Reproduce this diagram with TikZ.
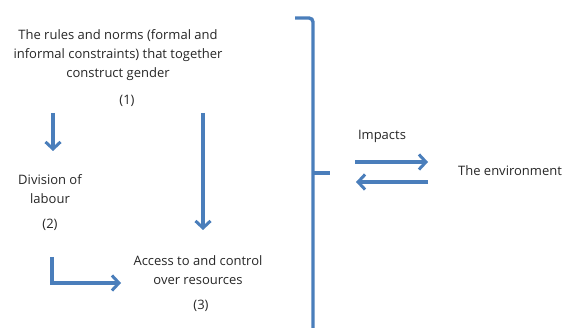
\documentclass[tikz,border=0pt]{standalone}
\usepackage{fontspec}
\setmainfont{Open Sans}
\usetikzlibrary{arrows.meta}
\definecolor{lblue}{HTML}{4A7EBB}
\tikzset{
  x=1pt,y=-1pt,
  lbl/.style={font=\fontsize{13}{19}\selectfont, text=black!85, inner sep=0pt, align=center},
  conn/.style={draw=lblue, line width=3.4pt, -{Straight Barb[length=7pt,width=15pt,line width=3pt]}},
  brk/.style={draw=lblue, line width=3.4pt, rounded corners=4pt}
}
\begin{document}
\begin{tikzpicture}
\useasboundingbox (0,0) rectangle (564,328);
\node[lbl] (t1) at (118,55) {The rules and norms (formal and\\informal constraints) that together\\construct gender};
\node[lbl] (n1) at (127,101) {(1)};
\node[lbl] (t2) at (50,189) {Division of\\labour};
\node[lbl] (n2) at (50,225) {(2)};
\node[lbl] (t3) at (198,270) {Access to and control\\over resources};
\node[lbl] (n3) at (201,306) {(3)};
\node[lbl] (imp) at (382,136) {Impacts};
\node[lbl] (env) at (510,171) {The environment};
\coordinate (a1s) at (53,113);
\coordinate (a1e) at (53,151);
\coordinate (a2s) at (203,113);
\coordinate (a2e) at (203,230);
\coordinate (e1) at (52,257);
\coordinate (e2) at (52,283);
\coordinate (e3) at (121,283);
\draw[conn] (a1s) -- (a1e);
\draw[conn] (a2s) -- (a2e);
\draw[conn] (e1) -- (e2) -- (e3);
\coordinate (b1) at (295,18);
\coordinate (b2) at (313,18);
\coordinate (b3) at (313,332);
\coordinate (bm) at (313,173);
\coordinate (bs) at (330,173);
\draw[brk] (b1) -- (b2) -- (b3);
\draw[brk] (bm) -- (bs);
\coordinate (r1) at (355,162);
\coordinate (r2) at (428,162);
\coordinate (l1) at (428,182);
\coordinate (l2) at (356,182);
\draw[conn] (r1) -- (r2);
\draw[conn] (l1) -- (l2);
\end{tikzpicture}
\end{document}
